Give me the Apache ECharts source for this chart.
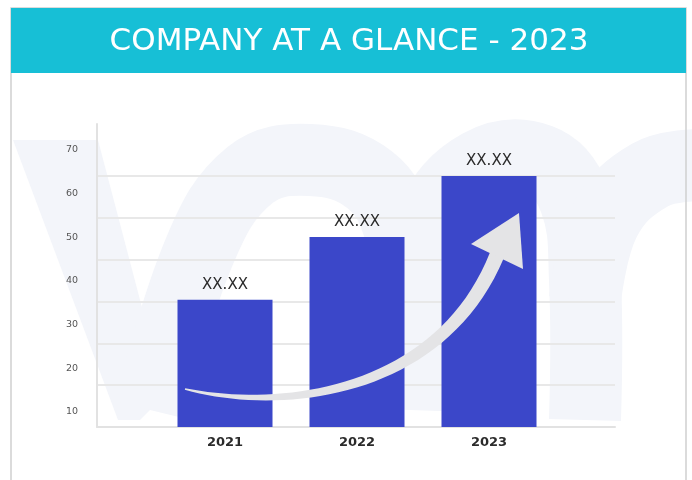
<!DOCTYPE html>
<html>
<head>
<meta charset="utf-8">
<script src="https://cdn.jsdelivr.net/npm/echarts@6/dist/echarts.min.js"></script>
<style>
  html, body { margin: 0; padding: 0; background: #fff; }
  #chart { width: 692px; height: 480px; }
</style>
</head>
<body>
<div id="chart"></div>
<script>
// chart data
const titleText = "COMPANY AT A GLANCE - 2023";
const categories = ["2021", "2022", "2023"];
const values = [30.4, 45.4, 60];
const valueLabels = ["XX.XX", "XX.XX", "XX.XX"];
const yTickLabels = [10, 20, 30, 40, 50, 60, 70];

const chart = echarts.init(document.getElementById("chart"));

const hidden = { show: false };

// tapered curved arrow body, sampled from a cubic bezier
function arrowBody(p0, p1, p2, p3, w0, w1) {
  const left = [], right = [];
  const n = 40;
  for (let i = 0; i <= n; i++) {
    const t = i / n, u = 1 - t;
    const x = u*u*u*p0[0] + 3*u*u*t*p1[0] + 3*u*t*t*p2[0] + t*t*t*p3[0];
    const y = u*u*u*p0[1] + 3*u*u*t*p1[1] + 3*u*t*t*p2[1] + t*t*t*p3[1];
    const dx = 3*u*u*(p1[0]-p0[0]) + 6*u*t*(p2[0]-p1[0]) + 3*t*t*(p3[0]-p2[0]);
    const dy = 3*u*u*(p1[1]-p0[1]) + 6*u*t*(p2[1]-p1[1]) + 3*t*t*(p3[1]-p2[1]);
    const len = Math.hypot(dx, dy) || 1;
    const w = (w0 + (w1 - w0) * Math.pow(t, 0.8)) / 2;
    left.push([x - dy / len * w, y + dx / len * w]);
    right.push([x + dy / len * w, y - dx / len * w]);
  }
  return left.concat(right.reverse());
}

const wmColor = "#f3f5fa";
const wmStyle = { stroke: wmColor, lineWidth: 72, fill: null, lineCap: "butt", lineJoin: "round" };

chart.setOption({
  backgroundColor: "#fff",
  animation: false,
  grid: [
    { left: 97, right: 77, top: 176, bottom: 53 },
    { left: 97, right: 77, top: 124, bottom: 53 },
    { left: 97, right: 77, top: 150, bottom: 68 },
    { left: 159, right: 137, top: 176, bottom: 53 }
  ],
  xAxis: [
    {
      gridIndex: 0, type: "category", data: categories,
      axisLine: { lineStyle: { color: "#e2e2e2", width: 2 } },
      axisTick: hidden, axisLabel: hidden
    },
    { gridIndex: 1, type: "category", data: categories, show: false },
    { gridIndex: 2, type: "category", data: categories, show: false },
    {
      gridIndex: 3, type: "category", data: categories,
      axisLine: hidden, axisTick: hidden,
      axisLabel: { color: "#2b2b2b", fontSize: 13, fontWeight: "bold", fontFamily: "DejaVu Sans", margin: 9 }
    }
  ],
  yAxis: [
    {
      gridIndex: 0, type: "value", min: 0, max: 60, interval: 10,
      axisLine: hidden, axisTick: hidden, axisLabel: hidden,
      splitLine: { lineStyle: { color: "#e8e8e8", width: 2 } }
    },
    {
      gridIndex: 1, type: "value", min: 0, max: 1,
      axisLine: { show: true, lineStyle: { color: "#e2e2e2", width: 2 } },
      axisTick: hidden, axisLabel: hidden, splitLine: hidden
    },
    {
      gridIndex: 2, type: "value",
      min: yTickLabels[0], max: yTickLabels[yTickLabels.length - 1], interval: 10,
      axisLine: hidden, axisTick: hidden, splitLine: hidden,
      axisLabel: { color: "#555", fontSize: 9.5, fontFamily: "DejaVu Sans", margin: 19 }
    },
    { gridIndex: 3, type: "value", min: 0, max: 60, show: false }
  ],
  graphic: [
    // faint "vm" watermark
    {
      type: "polygon", z: -10, silent: true,
      shape: { points: [[13, 140], [98, 140], [165, 395], [140, 420], [118, 420]] },
      style: { fill: wmColor }
    },
    {
      type: "polyline", z: -10, silent: true,
      shape: { points: [[150, 410], [200, 250], [250, 175], [310, 160], [370, 180], [400, 230], [410, 300], [410, 410]], smooth: 0.4 },
      style: wmStyle
    },
    {
      type: "polyline", z: -10, silent: true,
      shape: { points: [[410, 300], [430, 220], [480, 165], [540, 160], [575, 200], [585, 280], [585, 420]], smooth: 0.4 },
      style: wmStyle
    },
    {
      type: "polyline", z: -10, silent: true,
      shape: { points: [[585, 300], [605, 220], [650, 175], [700, 165]], smooth: 0.4 },
      style: wmStyle
    },
    // frame
    {
      type: "rect", z: -5, silent: true,
      shape: { x: 11, y: 8, width: 675, height: 480 },
      style: { fill: "none", stroke: "#cfcfcf", lineWidth: 1.5 }
    },
    // title band
    {
      type: "rect", z: 50, silent: true,
      shape: { x: 11, y: 8, width: 675, height: 65 },
      style: { fill: "#17bfd6" }
    },
    {
      type: "text", z: 51, silent: true, x: 349, y: 42,
      style: {
        text: titleText, fill: "#fff", fontSize: 31, fontFamily: "DejaVu Sans",
        align: "center", verticalAlign: "middle"
      }
    },
    // growth arrow
    {
      type: "polygon", z: 100, silent: true,
      shape: { points: arrowBody([185, 389], [280, 412], [440, 395], [497, 255], 1.5, 15) },
      style: { fill: "#e4e4e6" }
    },
    {
      type: "polygon", z: 100, silent: true,
      shape: { points: [[519, 213], [523, 269], [471, 244]] },
      style: { fill: "#e4e4e6" }
    }
  ],
  series: [
    {
      type: "bar",
      xAxisIndex: 3, yAxisIndex: 3,
      data: values,
      barWidth: 95,
      itemStyle: { color: "#3b47c9" },
      label: {
        show: true, position: "top", distance: 7,
        formatter: (p) => valueLabels[p.dataIndex],
        color: "#2b2b2b", fontSize: 15, fontFamily: "DejaVu Sans"
      }
    }
  ]
});
</script>
</body>
</html>
